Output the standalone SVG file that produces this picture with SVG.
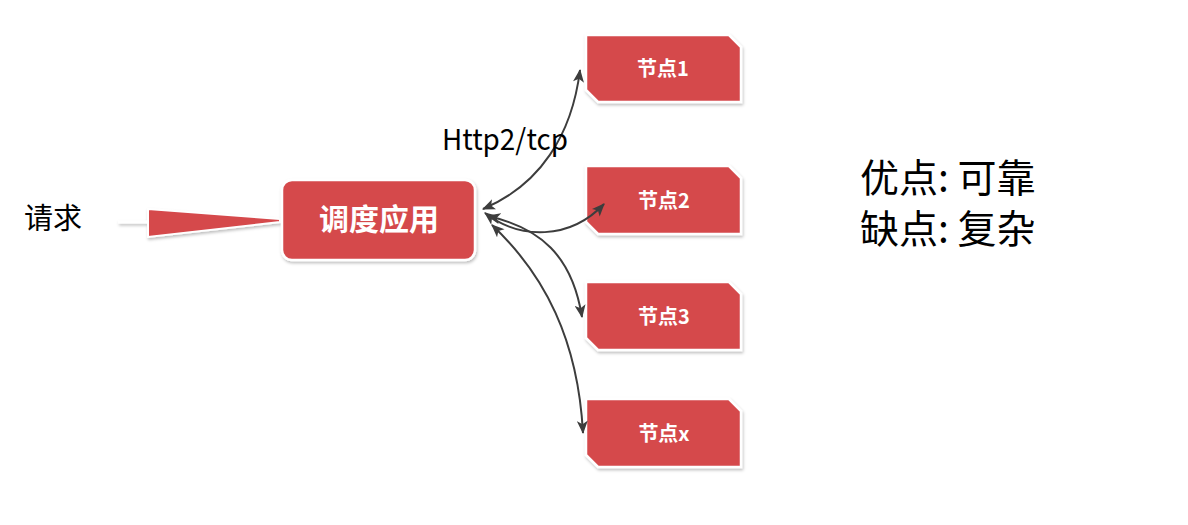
<svg xmlns="http://www.w3.org/2000/svg" width="1188" height="525" viewBox="0 0 1188 525">
<defs>
<filter id="sh" x="-10%" y="-10%" width="130%" height="140%">
<feDropShadow dx="1" dy="2" stdDeviation="1.5" flood-color="#000" flood-opacity="0.25"/>
</filter>
<marker id="ah" viewBox="0 0 12 10" refX="11" refY="5" markerWidth="14" markerHeight="11" markerUnits="userSpaceOnUse" orient="auto-start-reverse">
<path d="M0,0 L12,5 L0,10 L3,5 Z" fill="#3d3d3d"/>
</marker>
<style>
.node{fill:#d5484c;stroke:#fff;stroke-width:2.5;filter:url(#sh);}
.nt{font-family:"Noto Sans CJK SC","Noto Sans",sans-serif;font-weight:700;fill:#fff;text-anchor:middle;}
.conn{fill:none;stroke:#3d3d3d;stroke-width:2;marker-start:url(#ah);marker-end:url(#ah);}
.lbl{font-family:"Noto Sans CJK SC","Noto Sans",sans-serif;fill:#000;}
</style>
</defs>
<rect width="1188" height="525" fill="#fff"/>

<g id="request">
<text x="24" y="229" class="lbl" font-size="29" font-family="'Liberation Serif','Noto Sans CJK SC',serif">请求</text>
</g>

<g id="input-wedge" filter="url(#sh)">
<line x1="118" y1="222" x2="150" y2="222" stroke="#fff" stroke-width="3"/>
<polygon points="148,209 280,219 280,222 148,237" fill="#d5484c" stroke="#fff" stroke-width="2"/>
</g>

<g id="dispatcher">
<rect class="node" x="282" y="180" width="193" height="80" rx="10"/>
<text class="nt" x="379" y="230" font-size="30">调度应用</text>
</g>

<g id="node1">
<polygon class="node" points="586,35 729,35 741,47 741,102 598,102 586,90"/>
<text class="nt" x="663" y="76" font-size="20">节点1</text>
</g>
<g id="node2">
<polygon class="node" points="586,166 729,166 741,178 741,234 598,234 586,222"/>
<text class="nt" x="664" y="208" font-size="20">节点2</text>
</g>
<g id="node3">
<polygon class="node" points="586,282 729,282 741,294 741,350 598,350 586,338"/>
<text class="nt" x="664" y="324" font-size="20">节点3</text>
</g>
<g id="nodex">
<polygon class="node" points="586,399 729,399 741,411 741,467 598,467 586,455"/>
<text class="nt" x="664" y="441" font-size="20">节点x</text>
</g>

<g id="connectors">
<path class="conn" d="M483,209 C540,185 572,135 580,70"/>
<path class="conn" d="M485,213 C520,240 570,240 604,204"/>
<path class="conn" d="M488,216 C540,228 572,255 582,317"/>
<path class="conn" d="M492,225 C545,275 578,340 583,433"/>
</g>

<g id="edge-label">
<text x="442" y="150" class="lbl" font-size="29" font-family="'Noto Sans','Liberation Sans',sans-serif" textLength="126" lengthAdjust="spacingAndGlyphs">Http2/tcp</text>
</g>

<g id="notes">
<text x="860" y="192" class="lbl" font-size="39">优点: 可靠</text>
<text x="860" y="243" class="lbl" font-size="39">缺点: 复杂</text>
</g>
</svg>
